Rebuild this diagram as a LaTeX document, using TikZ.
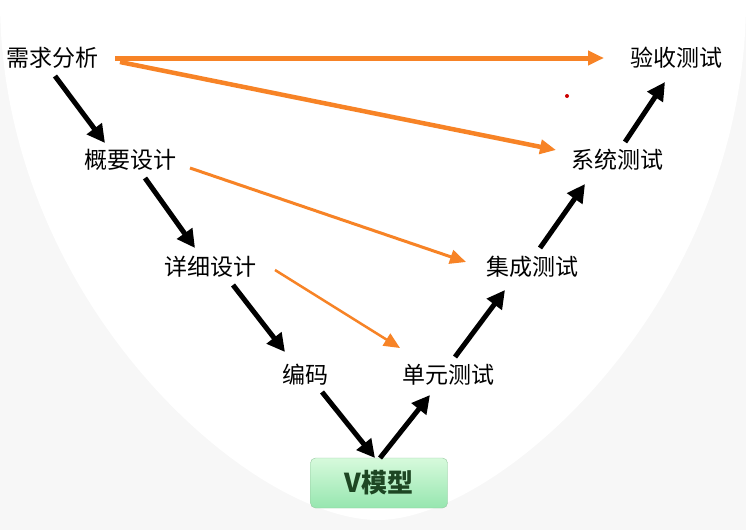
\documentclass[tikz,border=0pt]{standalone}
\usepackage{fontspec}
\newfontfamily\cjk{Noto Sans CJK SC}
\usetikzlibrary{arrows.meta}
\begin{document}
\begin{tikzpicture}[x=1pt,y=-1pt,
  lbl/.style={font=\cjk\fontsize{23}{25}\selectfont, inner sep=1pt},
  blk/.style={line width=5pt, -{Triangle[length=18pt,width=18pt]}},
  org/.style={draw={rgb,255:red,247;green,131;blue,38}, -{Triangle[length=16pt,width=14pt]}}]
\useasboundingbox (0,0) rectangle (746,530);
\fill[gray!6] (0,0) rectangle (746,530);
\fill[white] (0,0) .. controls (0,300) and (250,520) .. (378,520) .. controls (500,520) and (746,300) .. (746,0) -- cycle;
\node[lbl] (a) at (52,58) {需求分析};
\node[lbl] (b) at (130,160) {概要设计};
\node[lbl] (c) at (210,267) {详细设计};
\node[lbl] (d) at (305,375) {编码};
\node[draw={rgb,255:red,150;green,200;blue,160}, rounded corners=5pt, minimum width=137pt, minimum height=50pt,
  top color={rgb,255:red,215;green,250;blue,220}, bottom color={rgb,255:red,150;green,230;blue,175},
  font=\cjk\bfseries\fontsize{26}{28}\selectfont, text={rgb,255:red,30;green,70;blue,35}] (v) at (379,483) {V模型};
\node[lbl] (e) at (448,375) {单元测试};
\node[lbl] (f) at (532,267) {集成测试};
\node[lbl] (g) at (617,160) {系统测试};
\node[lbl] (h) at (676,58) {验收测试};
\draw[blk] (55,76) -- (105,143);
\draw[blk] (145,178) -- (195,248);
\draw[blk] (233,285) -- (285,352);
\draw[blk] (322,392) -- (375,458);
\draw[blk] (380,458) -- (430,395);
\draw[blk] (455,357) -- (505,290);
\draw[blk] (540,248) -- (585,184);
\draw[blk] (625,142) -- (665,82);
\draw[org, line width=5pt] (115,58) -- (604,58);
\draw[org, line width=4.5pt] (120,62) -- (556,150);
\draw[org, line width=3pt] (190,168) -- (466,262);
\draw[org, line width=2.5pt] (275,270) -- (400,348);
\fill[red!80!black] (567,96) circle (2pt);
\end{tikzpicture}
\end{document}
